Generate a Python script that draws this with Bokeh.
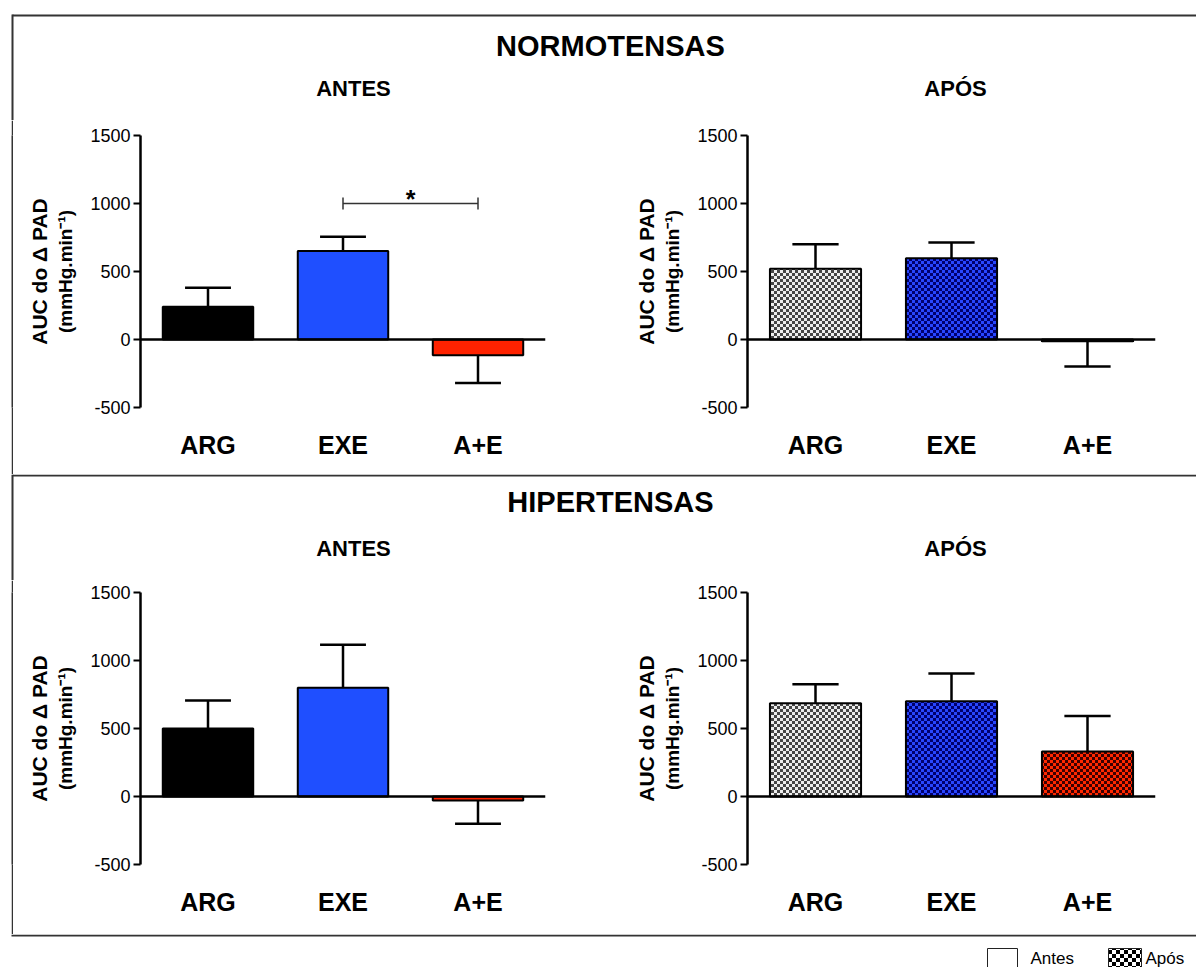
import base64
import struct
import zlib

from bokeh.core.properties import field, value
from bokeh.embed import file_html
from bokeh.layouts import column, row
from bokeh.models import (ColumnDataSource, FactorRange, FixedTicker, ImageURLTexture,
                          LinearAxis, Range1d, Spacer, Span)
from bokeh.plotting import figure
from bokeh.resources import INLINE
from bokeh.transform import dodge

# ---------------------------------------------------------------- data
groups = ["ARG", "EXE", "A+E"]
y_ticks = [-500, 0, 500, 1000, 1500]
y_tick_labels = {-500: "-500", 0: "0", 500: "500", 1000: "1000", 1500: "1500"}

normo_antes = [240, 650, -115]
normo_antes_err = [140, 105, 205]
normo_apos = [520, 598, -12]
normo_apos_err = [180, 115, 187]

hiper_antes = [500, 800, -30]
hiper_antes_err = [205, 315, 170]
hiper_apos = [685, 700, 330]
hiper_apos_err = [140, 205, 262]

# significance bracket (NORMOTENSAS / ANTES)
sig_pair = ["EXE", "A+E"]
sig_level = 1000
sig_label = "*"

FONT = "Liberation Sans"
BOX = "#333333"
solid_colors = ["#000000", "#1f4fff", "#ff2200"]


# ---------------------------------------------------------------- textures
def checker_uri(c1, c2, cell=3):
    size = cell * 2
    raw = b""
    for y in range(size):
        raw += b"\x00"
        for x in range(size):
            c = c1 if ((x // cell) + (y // cell)) % 2 == 0 else c2
            raw += bytes(c)

    def chunk(tag, data):
        return (struct.pack(">I", len(data)) + tag + data +
                struct.pack(">I", zlib.crc32(tag + data) & 0xFFFFFFFF))

    png = (b"\x89PNG\r\n\x1a\n" +
           chunk(b"IHDR", struct.pack(">IIBBBBB", size, size, 8, 2, 0, 0, 0)) +
           chunk(b"IDAT", zlib.compress(raw)) +
           chunk(b"IEND", b""))
    return "data:image/png;base64," + base64.b64encode(png).decode()


textures = {
    "xadrez_cinza": ImageURLTexture(url=checker_uri((238, 238, 238), (70, 70, 70)), repetition="repeat"),
    "xadrez_azul": ImageURLTexture(url=checker_uri((40, 70, 255), (0, 0, 110)), repetition="repeat"),
    "xadrez_vermelho": ImageURLTexture(url=checker_uri((255, 40, 0), (60, 0, 0)), repetition="repeat"),
}
legend_texture = {"xadrez_pb": ImageURLTexture(url=checker_uri((255, 255, 255), (0, 0, 0), cell=4),
                                               repetition="repeat")}
apos_keys = ["xadrez_cinza", "xadrez_azul", "xadrez_vermelho"]


# ---------------------------------------------------------------- helpers
def band(h, w=1196):
    p = figure(width=w, height=h, x_range=Range1d(0, w), y_range=Range1d(h, 0),
               x_axis_type=None, y_axis_type=None, min_border=0,
               toolbar_location=None, output_backend="svg")
    p.outline_line_color = None
    return p


def vline(h):
    # thin dark strip forming the left edge of the box
    p = figure(width=2, height=h, x_axis_type=None, y_axis_type=None, min_border=0,
               toolbar_location=None, output_backend="svg",
               background_fill_color=BOX, border_fill_color=BOX)
    p.outline_line_color = None
    return p


def panel(vals, errs, left, frame_w, right, top, bottom, hatch_keys=None, bracket=False):
    p = figure(x_range=FactorRange(*groups), y_range=Range1d(-500, 1500),
               frame_width=frame_w, frame_height=272,
               min_border_left=left, min_border_right=right,
               min_border_top=top, min_border_bottom=bottom,
               toolbar_location=None, output_backend="svg")
    p.outline_line_color = None
    p.xgrid.visible = False
    p.ygrid.visible = False

    ya = p.yaxis[0]
    ya.ticker = FixedTicker(ticks=y_ticks)
    ya.major_label_overrides = y_tick_labels
    ya.axis_line_width = 2.5
    ya.major_tick_line_width = 2
    ya.major_tick_out = 7
    ya.major_tick_in = 0
    ya.minor_tick_line_color = None
    ya.major_label_text_font = FONT
    ya.major_label_text_font_size = "18px"
    ya.major_label_text_color = "black"
    ya.major_label_standoff = 3
    ya.axis_label = "(mmHg.min\u207b\u00b9)"
    ya.axis_label_text_font = FONT
    ya.axis_label_text_font_style = "bold"
    ya.axis_label_text_font_size = "19px"
    ya.axis_label_text_color = "black"
    ya.axis_label_standoff = 11

    outer = LinearAxis(ticker=FixedTicker(ticks=[]), axis_label="AUC do \u0394 PAD",
                       axis_line_color=None, major_tick_line_color=None,
                       minor_tick_line_color=None, axis_label_standoff=2,
                       axis_label_text_font=FONT, axis_label_text_font_style="bold",
                       axis_label_text_font_size="21px", axis_label_text_color="black")
    p.add_layout(outer, "left")

    xa = p.xaxis[0]
    xa.axis_line_color = None
    xa.major_tick_line_color = None
    xa.minor_tick_line_color = None
    xa.major_label_text_font = FONT
    xa.major_label_text_font_style = "bold"
    xa.major_label_text_font_size = "25px"
    xa.major_label_text_color = "black"
    xa.major_label_standoff = 17

    ends = [v + e if v >= 0 else v - e for v, e in zip(vals, errs)]
    src = ColumnDataSource(dict(cat=groups, val=vals, end=ends, color=solid_colors,
                                hp=hatch_keys if hatch_keys else [" "] * len(groups)))

    if hatch_keys:
        p.vbar(x="cat", top="val", bottom=0, width=0.67, source=src,
               fill_color="white", line_color="black", line_width=2,
               hatch_pattern=field("hp"), hatch_extra=textures, hatch_alpha=1.0)
    else:
        p.vbar(x="cat", top="val", bottom=0, width=0.67, source=src,
               fill_color="color", line_color="black", line_width=2)

    # one-sided error bars
    p.segment(x0="cat", y0="val", x1="cat", y1="end", source=src,
              line_color="black", line_width=2.5)
    p.segment(x0=dodge("cat", -0.17, range=p.x_range), y0="end",
              x1=dodge("cat", 0.17, range=p.x_range), y1="end", source=src,
              line_color="black", line_width=2.5)

    p.add_layout(Span(location=0, dimension="width", line_color="black", line_width=2.5))

    if bracket:
        bsrc = ColumnDataSource(dict(a=[sig_pair[0]], b=[sig_pair[1]], y=[sig_level],
                                     lo=[sig_level - 45], hi=[sig_level + 45], t=[sig_label]))
        p.segment(x0="a", y0="y", x1="b", y1="y", source=bsrc, line_color=BOX, line_width=1.5)
        p.segment(x0="a", y0="lo", x1="a", y1="hi", source=bsrc, line_color=BOX, line_width=1.5)
        p.segment(x0="b", y0="lo", x1="b", y1="hi", source=bsrc, line_color=BOX, line_width=1.5)
        p.text(x=dodge("a", 0.5, range=p.x_range), y="y", text="t", source=bsrc,
               text_font=value(FONT), text_font_style="bold", text_font_size="25px",
               text_align="center", text_baseline="alphabetic", y_offset=-5)
    return p


def header_text(p, x, y, txt, size):
    p.text(x=[x], y=[y], text=[txt], text_font=value(FONT), text_font_style="bold",
           text_font_size=size, text_align="center", text_baseline="middle")


# ---------------------------------------------------------------- top band
hdr1 = band(120)
hdr1.segment(x0=[12, 12], y0=[15, 14], x1=[1196, 12], y1=[15, 120],
             line_color=BOX, line_width=2)
header_text(hdr1, 610, 45, "NORMOTENSAS", "29px")
header_text(hdr1, 353, 88, "ANTES", "22px")
header_text(hdr1, 955, 88, "APÓS", "22px")

pA = panel(normo_antes, normo_antes_err, 127, 405, 55, 15, 67, bracket=True)
pB = panel(normo_apos, normo_apos_err, 147, 408, 41, 15, 67, hatch_keys=apos_keys)

# ---------------------------------------------------------------- bottom band
hdr2 = band(106)
hdr2.segment(x0=[12, 12], y0=[1, 0], x1=[1196, 12], y1=[1, 106],
             line_color=BOX, line_width=2)
header_text(hdr2, 610, 27, "HIPERTENSAS", "29px")
header_text(hdr2, 353, 74, "ANTES", "22px")
header_text(hdr2, 955, 74, "APÓS", "22px")

pC = panel(hiper_antes, hiper_antes_err, 127, 405, 55, 12, 70)
pD = panel(hiper_apos, hiper_apos_err, 147, 408, 41, 12, 70, hatch_keys=apos_keys)

# ---------------------------------------------------------------- footer / legend
foot = band(33)
foot.segment(x0=[11], y0=[1], x1=[1196], y1=[1], line_color=BOX, line_width=2)
foot.quad(left=[987], right=[1017], top=[14], bottom=[40],
          fill_color="white", line_color="#222222", line_width=1)
foot.quad(left=[1108], right=[1141], top=[14], bottom=[40],
          fill_color="white", line_color="#222222", line_width=1,
          hatch_pattern=value("xadrez_pb"), hatch_extra=legend_texture)
foot.text(x=[1030, 1145], y=[24, 24], text=["Antes", "Após"], text_font=value(FONT),
          text_font_size="17px", text_align="left", text_baseline="middle")

layout = column(
    hdr1,
    row(Spacer(width=11, height=354), vline(354), pA, pB),
    hdr2,
    row(Spacer(width=11, height=354), vline(354), pC, pD),
    foot,
)

open("out.html", "w").write(file_html(layout, INLINE))
